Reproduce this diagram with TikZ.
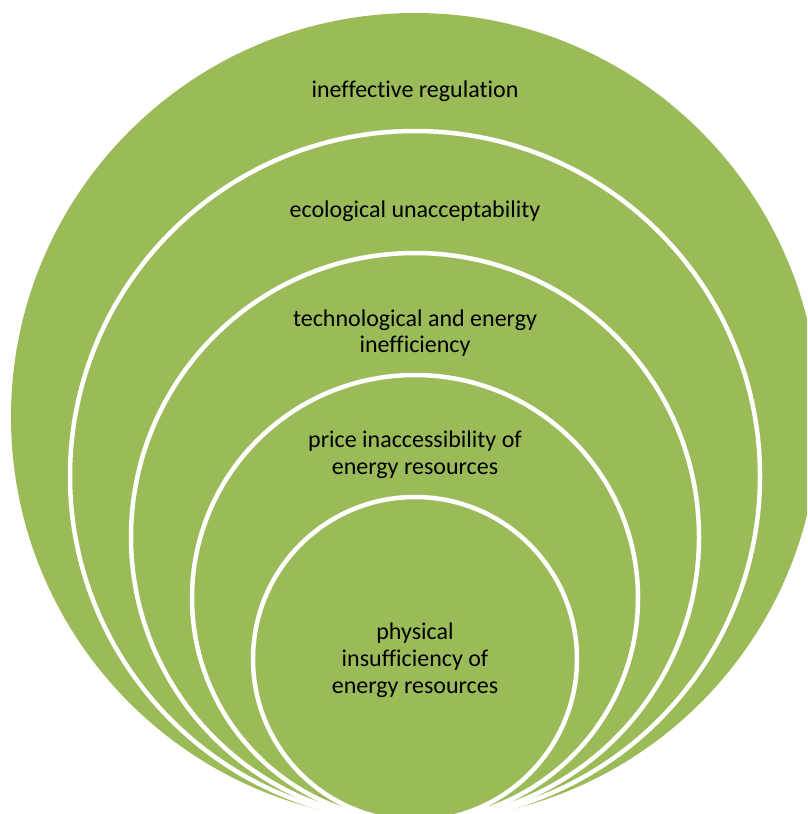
\documentclass[tikz,border=0pt]{standalone}
\usepackage{fontspec}
\setmainfont[Ligatures=NoCommon]{Carlito}
\definecolor{ringgreen}{HTML}{9BBB59}

\begin{document}
\begin{tikzpicture}
      [x=1pt, y=-1pt,
       ring/.style={
           circle,
           fill=ringgreen,
           draw=white, line width=4.5pt,
           inner sep=0pt
         },
       ringtext/.style={
           align=center,
           font=\fontsize{24}{26.8}\selectfont,
           text=black
         },
       ]
    \clip (0,0) rectangle (807,814);

    \node [ring, draw=none, minimum size=808pt] (regulation) at (415,417) {};
    \node [ring, minimum size=690pt] (ecology) at (415,476) {};
    \node [ring, minimum size=568pt] (technology) at (415,537) {};
    \node [ring, minimum size=446pt] (price) at (415,598) {};
    \node [ring, minimum size=324pt] (physical) at (415,659) {};

    \node [ringtext] (regulationtext) at (415,91) {ineffective regulation};
    \node [ringtext] (ecologytext) at (415,211) {ecological unacceptability};
    \node [ringtext] (technologytext) at (415,333) {technological and energy\\inefficiency};
    \node [ringtext] (pricetext) at (415,455) {price inaccessibility of\\energy resources};
    \node [ringtext] (physicaltext) at (415,660) {physical\\insufficiency of\\energy resources};

  \end{tikzpicture}
\end{document}
